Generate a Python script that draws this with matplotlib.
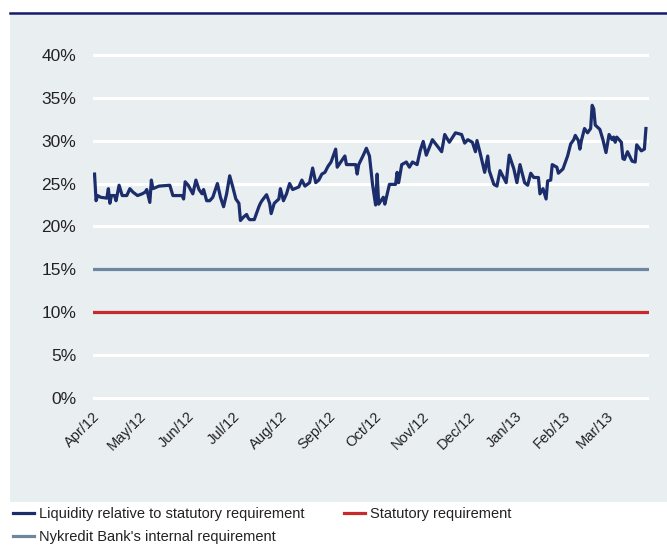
import pandas as pd
import matplotlib
matplotlib.use("Agg")
from matplotlib import pyplot as plt
import matplotlib.dates as mdates
from matplotlib.lines import Line2D
from matplotlib.patches import Rectangle

plt.rcParams['font.family'] = ['Liberation Sans', 'DejaVu Sans']

# liquidity relative to statutory requirement (%)
dates = [
    "2012-04-02", "2012-04-03", "2012-04-04", "2012-04-06", "2012-04-10", "2012-04-11",
    "2012-04-12", "2012-04-13", "2012-04-15", "2012-04-16", "2012-04-18", "2012-04-20",
    "2012-04-23", "2012-04-25", "2012-04-27", "2012-04-30", "2012-05-03", "2012-05-05",
    "2012-05-06", "2012-05-08", "2012-05-09", "2012-05-10", "2012-05-14", "2012-05-21",
    "2012-05-23", "2012-05-29", "2012-05-30", "2012-05-31", "2012-06-02", "2012-06-05",
    "2012-06-07", "2012-06-09", "2012-06-11", "2012-06-12", "2012-06-14", "2012-06-16",
    "2012-06-18", "2012-06-21", "2012-06-23", "2012-06-25", "2012-06-27", "2012-06-29",
    "2012-07-01", "2012-07-03", "2012-07-05", "2012-07-06", "2012-07-08", "2012-07-10",
    "2012-07-11", "2012-07-12", "2012-07-15", "2012-07-18", "2012-07-19", "2012-07-20",
    "2012-07-23", "2012-07-25", "2012-07-26", "2012-07-28", "2012-07-31", "2012-08-01",
    "2012-08-03", "2012-08-05", "2012-08-07", "2012-08-09", "2012-08-13", "2012-08-15",
    "2012-08-17", "2012-08-20", "2012-08-22", "2012-08-24", "2012-08-26", "2012-08-28",
    "2012-08-30", "2012-09-01", "2012-09-03", "2012-09-06", "2012-09-07", "2012-09-12",
    "2012-09-13", "2012-09-19", "2012-09-20", "2012-09-21", "2012-09-24", "2012-09-26",
    "2012-09-28", "2012-09-30", "2012-10-02", "2012-10-03", "2012-10-04", "2012-10-07",
    "2012-10-08", "2012-10-11", "2012-10-15", "2012-10-16", "2012-10-17", "2012-10-19",
    "2012-10-22", "2012-10-24", "2012-10-26", "2012-10-29", "2012-10-31", "2012-11-02",
    "2012-11-04", "2012-11-08", "2012-11-11", "2012-11-14", "2012-11-16", "2012-11-19",
    "2012-11-23", "2012-11-27", "2012-11-29", "2012-12-01", "2012-12-04", "2012-12-06",
    "2012-12-07", "2012-12-09", "2012-12-12", "2012-12-14", "2012-12-15", "2012-12-18",
    "2012-12-20", "2012-12-22", "2012-12-26", "2012-12-28", "2012-12-31", "2013-01-02",
    "2013-01-04", "2013-01-07", "2013-01-09", "2013-01-11", "2013-01-13", "2013-01-16",
    "2013-01-17", "2013-01-19", "2013-01-21", "2013-01-22", "2013-01-24", "2013-01-25",
    "2013-01-28", "2013-01-29", "2013-02-01", "2013-02-04", "2013-02-06", "2013-02-08",
    "2013-02-09", "2013-02-11", "2013-02-12", "2013-02-13", "2013-02-15", "2013-02-17",
    "2013-02-19", "2013-02-20", "2013-02-21", "2013-02-22", "2013-02-25", "2013-02-27",
    "2013-03-01", "2013-03-03", "2013-03-05", "2013-03-06", "2013-03-07", "2013-03-08",
    "2013-03-11", "2013-03-12", "2013-03-13", "2013-03-15", "2013-03-18", "2013-03-20",
    "2013-03-21", "2013-03-24", "2013-03-26", "2013-03-27",
]
liquidity = [
    26.1, 23.0, 23.6, 23.4, 23.3, 24.4, 22.7, 23.6, 23.6, 23.0, 24.8, 23.6,
    23.6, 24.4, 24.0, 23.6, 23.8, 24.0, 24.3, 22.8, 25.4, 24.4, 24.7, 24.8,
    23.6, 23.6, 23.2, 25.2, 24.8, 23.8, 25.4, 24.3, 23.8, 24.3, 23.0, 23.0,
    23.4, 25.0, 23.4, 22.3, 23.8, 25.9, 24.6, 23.2, 22.7, 20.7, 21.1, 21.4,
    21.0, 20.8, 20.8, 22.3, 22.7, 23.0, 23.7, 22.7, 21.5, 22.7, 23.2, 24.4,
    23.0, 23.8, 25.0, 24.3, 24.6, 25.4, 24.7, 25.1, 26.8, 25.1, 25.4, 26.1,
    26.3, 27.0, 27.5, 29.0, 26.9, 28.2, 27.2, 27.2, 26.1, 27.2, 28.3, 29.1,
    28.2, 24.9, 22.5, 26.1, 22.6, 23.4, 22.6, 24.9, 24.9, 26.3, 25.1, 27.2,
    27.5, 26.9, 27.5, 27.2, 28.8, 29.9, 28.3, 30.1, 29.4, 28.7, 30.7, 29.8,
    30.9, 30.7, 29.7, 30.1, 29.8, 28.7, 30.0, 28.6, 26.3, 28.2, 26.5, 24.9,
    24.7, 26.5, 25.1, 28.3, 26.7, 25.1, 27.2, 25.1, 24.8, 26.2, 25.7, 25.7,
    23.8, 24.4, 23.2, 25.3, 25.4, 27.2, 26.9, 26.2, 26.7, 28.2, 29.6, 30.1,
    30.6, 30.0, 29.0, 30.0, 31.4, 30.9, 31.4, 34.1, 33.7, 31.8, 31.3, 30.1,
    28.6, 30.7, 30.1, 30.4, 29.8, 30.4, 29.8, 27.9, 27.8, 28.7, 27.6, 27.5,
    29.5, 28.8, 29.0, 31.4,
]
statutory = 10.0
internal = 15.0

labels = ["Liquidity relative to statutory requirement",
          "Nykredit Bank's internal requirement",
          "Statutory requirement"]

navy = "#1b2d6b"
red = "#c62a2e"
steel = "#6e86a0"
panel = "#e9eef1"

fig = plt.figure(figsize=(6.67, 5.45), dpi=100)

# grey panel and navy rule above it
fig.add_artist(Rectangle((10 / 667, 1 - 502 / 545), 657 / 667, 487 / 545,
                         transform=fig.transFigure, facecolor=panel,
                         edgecolor="none", zorder=0))
fig.add_artist(Line2D([10 / 667, 1], [1 - 12.5 / 545, 1 - 12.5 / 545],
                      transform=fig.transFigure, color="#14196b", lw=1.8))

ax = fig.add_axes([93 / 667, 1 - 401 / 545, 556 / 667, 349 / 545])
ax.set_facecolor("none")

x = pd.to_datetime(dates)
l1, = ax.plot(x, liquidity, color=navy, lw=2.3, zorder=5)
l2 = ax.axhline(internal, color=steel, lw=2.3, zorder=4)
l3 = ax.axhline(statutory, color=red, lw=2.3, zorder=4)

ax.set_ylim(-0.3, 40.3)
ax.set_yticks(range(0, 41, 5))
ax.set_yticklabels([f"{v}%" for v in range(0, 41, 5)])
ax.set_xlim(pd.Timestamp("2012-04-01"), pd.Timestamp("2013-03-29"))
ax.xaxis.set_major_locator(mdates.MonthLocator())
ax.xaxis.set_major_formatter(mdates.DateFormatter("%b/%y"))

ax.grid(axis="y", color="white", lw=2.2, zorder=1)
ax.grid(axis="x", visible=False)
for s in ax.spines.values():
    s.set_visible(False)
ax.tick_params(axis="y", length=0, pad=12, labelsize=12.5, labelcolor="#222222")
ax.tick_params(axis="x", length=0, pad=6, labelsize=10.5, labelcolor="#222222")
plt.setp(ax.get_xticklabels(), rotation=45, ha="right", va="top",
         rotation_mode="anchor")

fig.legend([l1, l2, l3], labels, loc="upper left", ncol=2,
           bbox_to_anchor=(9 / 667, 1 - 503 / 545), frameon=False,
           fontsize=10.5, handlelength=1.45, handletextpad=0.35,
           columnspacing=2.7, labelspacing=0.65, labelcolor="#222222",
           borderaxespad=0, borderpad=0.25)

plt.savefig("out.png", dpi=100)
